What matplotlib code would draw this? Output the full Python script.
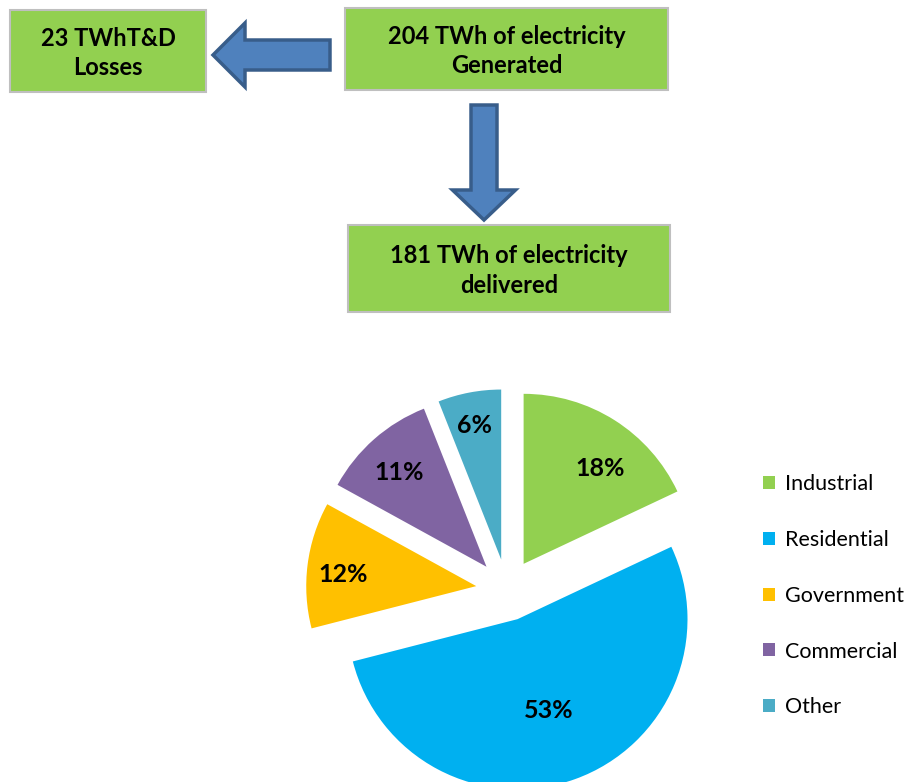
import matplotlib
matplotlib.use("Agg")
import matplotlib.pyplot as plt
from matplotlib.patches import Rectangle, FancyArrow, Patch
import numpy as np

plt.rcParams['font.family'] = ['Lato', 'DejaVu Sans']

# Datos
categories = ["Industrial", "Residential", "Government", "Commercial", "Other"]
shares = [18, 53, 12, 11, 6]
colors = ["#92d050", "#00b0f0", "#ffc000", "#8064a2", "#4bacc6"]
label_dist = [0.74, 0.54, 0.79, 0.78, 0.83]
label_turn = [-5, 0, 0, 0, 0]   # grados, ajuste de la etiqueta

box_texts = ["23 TWhT&D\nLosses",
             "204 TWh of electricity\nGenerated",
             "181 TWh of electricity\ndelivered"]

W, H = 908, 782
fig = plt.figure(figsize=(W / 100, H / 100), dpi=100)

# Diagrama superior (coordenadas en pixeles)
ax = fig.add_axes([0, 0, 1, 1])
ax.set_xlim(0, W)
ax.set_ylim(H, 0)
ax.axis("off")

boxes = [(10, 10, 196, 82), (345, 8, 323, 82), (348, 225, 322, 87)]
for (x, y, w, h), txt in zip(boxes, box_texts):
    ax.add_patch(Rectangle((x, y), w, h, facecolor="#92d050",
                           edgecolor="#bfbfbf", linewidth=1.5))
    ax.text(x + w / 2, y + h / 2 + 2, txt, ha="center", va="center",
            fontsize=17, fontweight="bold", linespacing=1.36)

arrow_kw = dict(facecolor="#4f81bd", edgecolor="#385d8a", linewidth=2.5,
                length_includes_head=True)
ax.add_patch(FancyArrow(330, 55, -117, 0, width=30, head_width=64,
                        head_length=32, **arrow_kw))
ax.add_patch(FancyArrow(484, 105, 0, 115, width=26, head_width=63,
                        head_length=30, **arrow_kw))

# Pie
cx, cy, half = 507, 590, 250
pax = fig.add_axes([(cx - half) / W, (H - cy - half) / H, 2 * half / W, 2 * half / H])

R = 170
wedges, _ = pax.pie(shares, colors=colors, radius=R, startangle=90,
                    counterclock=False, explode=[31] * len(shares),
                    wedgeprops=dict(linewidth=0))
pax.set_xlim(-half, half)
pax.set_ylim(-half, half)
pax.set_aspect("equal")
pax.axis("off")
for wdg, s, d, t in zip(wedges, shares, label_dist, label_turn):
    tm = np.deg2rad((wdg.theta1 + wdg.theta2) / 2 + t)
    x0, y0 = wdg.center
    pax.text(x0 + d * R * np.cos(tm), y0 + d * R * np.sin(tm) - 5, f"{s}%",
             ha="center", va="center", fontsize=18, fontweight="bold")

handles = [Patch(facecolor=c) for c in colors]
fig.legend(handles, categories, loc="upper left",
           bbox_to_anchor=(744 / W, 1 - 455 / H), frameon=False,
           fontsize=15.5, handlelength=0.55, handleheight=0.55,
           handletextpad=0.45, labelspacing=1.66)

fig.savefig("out.png", dpi=100)
